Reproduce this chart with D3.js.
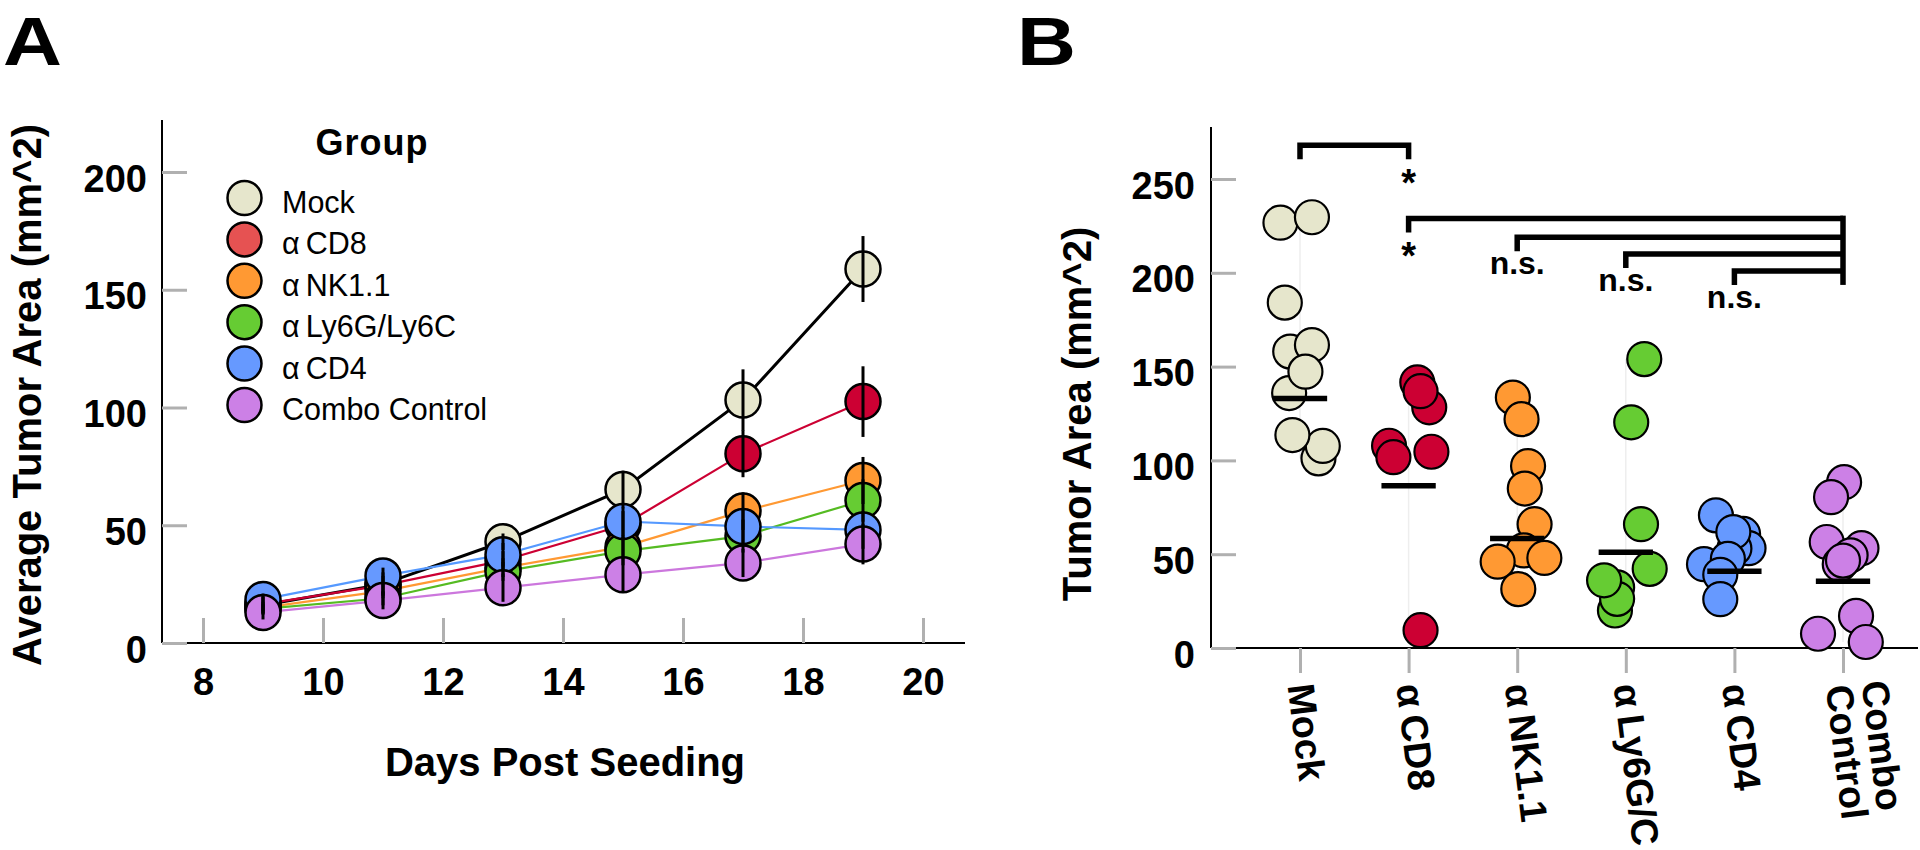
<!DOCTYPE html>
<html><head><meta charset="utf-8">
<script src="https://cdn.jsdelivr.net/npm/d3@7"></script>
<style>
body{margin:0;background:#fff}
svg{display:block}
text{font-family:"Liberation Sans",Arial,Helvetica,sans-serif;fill:#000}
</style>
</head><body>
<svg id="c" width="1920" height="850"></svg>
<script>
// ---------------- DATA ----------------
// Panel A: average tumor area over time
const days = [9, 11, 13, 15, 17, 19];
const groupNames = ["Mock", "α\u2009CD8", "α\u2009NK1.1", "α\u2009Ly6G/Ly6C", "α\u2009CD4", "Combo Control"];
const mockMean  = [16, 25, 43, 65.2, 103.2, 158.8];
const cd8Mean   = [16.5, 24.5, 35, 50, 80.4, 102.5];
const nkMean    = [15, 22, 32, 40.8, 56, 69];
const lyMean    = [14.5, 19, 30.4, 39, 45.4, 60.5];
const cd4Mean   = [18.5, 28.5, 37.5, 51.6, 49.5, 48];
const comboMean = [13, 18, 23.5, 29, 34, 42];
const mockSem  = [4, 5, 3.5, 8, 13, 14];
const cd8Sem   = [3, 4, 4, 6, 10, 15];
const nkSem    = [2.5, 3, 4, 5, 8, 10];
const lySem    = [2, 3, 4, 6, 7, 9];
const cd4Sem   = [2.5, 3.5, 5, 6, 7, 8];
const comboSem = [3, 3.7, 6, 7, 6, 8.6];
const xTicksA = [8, 10, 12, 14, 16, 18, 20];
const yTicksA = [0, 50, 100, 150, 200];

// Panel B: individual tumor areas
const bCats = ["Mock", "α\u2009CD8", "α\u2009NK1.1", "α\u2009Ly6G/C", "α\u2009CD4", "Combo Control"];
const mockVals  = [101.1, 107.7, 113.5, 135.9, 158, 161.5, 147.3, 184.1, 226.7, 229.6];
const mockJit   = [0.17, 0.21, -0.07, -0.10, -0.09, 0.11, 0.05, -0.14, -0.18, 0.11];
const cd8Vals   = [128.3, 141.6, 136.9, 107.8, 101.7, 104.6, 9.5];
const cd8Jit    = [0.19, 0.08, 0.11, -0.18, -0.14, 0.21, 0.11];
const nkVals    = [133.5, 122, 97, 85, 66, 52, 46, 48, 31.4];
const nkJit     = [-0.04, 0.04, 0.10, 0.07, 0.16, 0.06, -0.18, 0.25, 0.01];
const lyVals    = [20, 32.3, 26.2, 36.1, 42.2, 66, 120.3, 154];
const lyJit     = [-0.10, -0.08, -0.08, -0.20, 0.22, 0.14, 0.05, 0.17];
const cd4Vals   = [60.8, 53.2, 53, 70.7, 61.8, 44.7, 47.5, 39, 26];
const cd4Jit    = [0.08, 0.13, 0.0, -0.17, -0.01, -0.28, -0.06, -0.13, -0.13];
const comboVals = [88.4, 80.4, 56.5, 53.2, 49.4, 44.7, 46.6, 17.1, 7.6, 3.2];
const comboJit  = [0.01, -0.11, -0.15, 0.17, 0.07, -0.03, 0.00, 0.12, -0.23, 0.21];
const centerVals = [133, 86.5, 58.4, 51, 40.9, 35.6];
const yTicksB = [0, 50, 100, 150, 200, 250];

// significance comparisons
const sigFrom   = ["Mock", "α\u2009CD8", "α\u2009NK1.1", "α\u2009Ly6G/C", "α\u2009CD4"];
const sigTo     = ["α\u2009CD8", "Combo Control", "Combo Control", "Combo Control", "Combo Control"];
const sigLevel  = [268, 229, 219, 210, 201];
const sigLabel  = ["*", "*", "n.s.", "n.s.", "n.s."];
const sigLabelAt = ["α\u2009CD8", "α\u2009CD8", "α\u2009NK1.1", "α\u2009Ly6G/C", "α\u2009CD4"];

// ---------------- STYLE ----------------
const fills = ["#e6e6cc", "#cc0033", "#ff9933", "#66cc33", "#6699ff", "#cc80e6"];
const legendFills = ["#e6e6cc", "#e65252", "#ff9933", "#66cc33", "#6699ff", "#cc80e6"];
const lineColors = ["#000000", "#cc0033", "#ff9933", "#55bb22", "#5599ff", "#cc77dd"];
const tickGray = "#b0b0b0";

const svg = d3.select("#c");

// ================= PANEL A =================
const A = {left: 162, right: 965, top: 120, bottom: 643};
const xA = d3.scaleLinear().domain([8, 20]).range([203, 923]);
const yA = d3.scaleLinear().domain([0, 200]).range([643, 172]);
const gA = svg.append("g");

gA.append("line").attr("x1", A.left).attr("x2", A.left).attr("y1", A.top).attr("y2", A.bottom).attr("stroke", "#000").attr("stroke-width", 2);
gA.append("line").attr("x1", A.left).attr("x2", A.right).attr("y1", A.bottom).attr("y2", A.bottom).attr("stroke", "#000").attr("stroke-width", 2);

const axYA = gA.append("g").attr("transform", `translate(${A.left},0)`)
  .call(d3.axisLeft(yA).tickValues(yTicksA).tickSize(-25).tickPadding(15).tickFormat(d3.format("d")));
const axXA = gA.append("g").attr("transform", `translate(0,${A.bottom})`)
  .call(d3.axisBottom(xA).tickValues(xTicksA).tickSize(-25).tickPadding(25).tickFormat(d3.format("d")));
[axYA, axXA].forEach(ax => {
  ax.select(".domain").remove();
  ax.selectAll(".tick line").attr("stroke", tickGray).attr("stroke-width", 3);
  ax.selectAll(".tick text").attr("font-size", 38).attr("font-weight", "bold").attr("fill", "#000")
    .style("font-family", '"Liberation Sans",Arial,sans-serif');
});
axYA.selectAll(".tick text").attr("dy", "0.5em");

gA.append("text").attr("transform", "translate(41,395) rotate(-90)").attr("text-anchor", "middle")
  .attr("font-size", 40).attr("font-weight", "bold").text("Average Tumor Area (mm^2)");
gA.append("text").attr("x", 565).attr("y", 776).attr("text-anchor", "middle")
  .attr("font-size", 40).attr("font-weight", "bold").text("Days Post Seeding");
svg.append("text").attr("transform", "translate(3,65) scale(1.2,1)").attr("font-size", 68).attr("font-weight", "bold").text("A");

const seriesA = [mockMean, cd8Mean, nkMean, lyMean, cd4Mean, comboMean].map((vals, i) => ({
  name: groupNames[i], vals, sem: [mockSem, cd8Sem, nkSem, lySem, cd4Sem, comboSem][i], i
}));
const lineA = d3.line().x((d, j) => xA(days[j])).y(d => yA(d));
gA.selectAll("path.series").data(seriesA).join("path").attr("class", "series")
  .attr("d", d => lineA(d.vals)).attr("fill", "none")
  .attr("stroke", d => lineColors[d.i]).attr("stroke-width", d => d.i === 0 ? 3 : 2.2);
seriesA.forEach(s => {
  gA.append("g").selectAll("circle").data(s.vals).join("circle")
    .attr("cx", (d, j) => xA(days[j])).attr("cy", d => yA(d)).attr("r", 17.5)
    .attr("fill", fills[s.i]).attr("stroke", "#000").attr("stroke-width", 2.5);
});
seriesA.forEach(s => {
  gA.append("g").selectAll("line").data(s.vals).join("line")
    .attr("x1", (d, j) => xA(days[j])).attr("x2", (d, j) => xA(days[j]))
    .attr("y1", (d, j) => yA(d + s.sem[j])).attr("y2", (d, j) => yA(d - s.sem[j]))
    .attr("stroke", "#000").attr("stroke-width", 3);
});

// legend
const gL = svg.append("g");
gL.append("text").attr("x", 372).attr("y", 155).attr("text-anchor", "middle")
  .attr("font-size", 36).attr("font-weight", "bold").attr("letter-spacing", 1).text("Group");
groupNames.forEach((g, i) => {
  const cy = 198 + i * 41.4;
  gL.append("circle").attr("cx", 244.5).attr("cy", cy).attr("r", 17)
    .attr("fill", legendFills[i]).attr("stroke", "#000").attr("stroke-width", 2.5);
  gL.append("text").attr("x", 282).attr("y", cy + 15).attr("font-size", 30.5).text(g);
});

// ================= PANEL B =================
const B = {left: 1211, right: 1918, top: 127, bottom: 648};
const xB = d3.scalePoint().domain(bCats).range([1300, 1843]);
const yB = d3.scaleLinear().domain([0, 250]).range([648, 179]);
const step = xB.step();
const gB = svg.append("g");

gB.append("line").attr("x1", B.left).attr("x2", B.left).attr("y1", B.top).attr("y2", B.bottom).attr("stroke", "#000").attr("stroke-width", 2);
gB.append("line").attr("x1", B.left).attr("x2", B.right).attr("y1", B.bottom).attr("y2", B.bottom).attr("stroke", "#000").attr("stroke-width", 2);

const axYB = gB.append("g").attr("transform", `translate(${B.left},0)`)
  .call(d3.axisLeft(yB).tickValues(yTicksB).tickSize(-25).tickPadding(16).tickFormat(d3.format("d")));
const axXB = gB.append("g").attr("transform", `translate(0,${B.bottom})`)
  .call(d3.axisBottom(xB).tickSize(25).tickFormat(""));
[axYB, axXB].forEach(ax => {
  ax.select(".domain").remove();
  ax.selectAll(".tick line").attr("stroke", tickGray).attr("stroke-width", 3);
  ax.selectAll(".tick text").attr("font-size", 38).attr("font-weight", "bold").attr("fill", "#000")
    .style("font-family", '"Liberation Sans",Arial,sans-serif');
});
axYB.selectAll(".tick text").attr("dy", "0.5em");
axXB.selectAll(".tick text").remove();

// category labels, rotated (slightly tilted as in the original)
bCats.forEach(c => {
  const parts = c.split(" ");
  const n = parts.length;
  const t = gB.append("text").attr("transform", `translate(${xB(c) + (n > 1 ? 4 : 0)},${B.bottom + 36}) rotate(83)`)
    .attr("font-size", 38).attr("font-weight", "bold");
  parts.forEach((p, k) => {
    t.append("tspan").attr("x", 0).attr("y", 12.5 + (k - (n - 1) / 2) * 36 - (n > 1 ? 9 : 0)).text(p);
  });
});

gB.append("text").attr("transform", "translate(1091,414) rotate(-90)").attr("text-anchor", "middle")
  .attr("font-size", 40).attr("font-weight", "bold").text("Tumor Area (mm^2)");
svg.append("text").attr("transform", "translate(1017,65) scale(1.2,1)").attr("font-size", 68).attr("font-weight", "bold").text("B");

const bVals = [mockVals, cd8Vals, nkVals, lyVals, cd4Vals, comboVals];
const bJit = [mockJit, cd8Jit, nkJit, lyJit, cd4Jit, comboJit];

bCats.forEach((c, i) => {
  gB.append("line").attr("x1", xB(c)).attr("x2", xB(c))
    .attr("y1", yB(d3.max(bVals[i]))).attr("y2", yB(d3.min(bVals[i])))
    .attr("stroke", "#eeeeee").attr("stroke-width", 1.5);
});
bCats.forEach((c, i) => {
  const pts = bVals[i].map((v, k) => ({v, j: bJit[i][k]}));
  gB.append("g").selectAll("circle").data(pts).join("circle")
    .attr("cx", d => xB(c) + d.j * step).attr("cy", d => yB(d.v)).attr("r", 17)
    .attr("fill", fills[i]).attr("stroke", "#000").attr("stroke-width", 2.2);
});
gB.append("g").selectAll("line").data(centerVals).join("line")
  .attr("x1", (d, i) => xB(bCats[i]) - 0.25 * step).attr("x2", (d, i) => xB(bCats[i]) + 0.25 * step)
  .attr("y1", d => yB(d)).attr("y2", d => yB(d)).attr("stroke", "#000").attr("stroke-width", 5.5);

// significance brackets
const leg = 14;
const gS = gB.append("g").attr("fill", "none").attr("stroke", "#000").attr("stroke-width", 5.5).attr("stroke-linejoin", "miter");
const hubCount = d3.rollup(sigTo, v => v.length, d => d);
sigFrom.forEach((f, i) => {
  const x1 = xB(f), x2 = xB(sigTo[i]), y = yB(sigLevel[i]);
  const shared = hubCount.get(sigTo[i]) > 1;
  const d = shared ? `M${x1},${y + leg}V${y}H${x2}` : `M${x1},${y + leg}V${y}H${x2}V${y + leg}`;
  gS.append("path").attr("d", d);
});
hubCount.forEach((cnt, hub) => {
  if (cnt > 1) {
    const lv = sigLevel.filter((v, i) => sigTo[i] === hub);
    gS.append("line").attr("x1", xB(hub)).attr("x2", xB(hub))
      .attr("y1", yB(d3.max(lv)) - 2.75).attr("y2", yB(d3.min(lv)) + leg);
  }
});
sigLabel.forEach((lab, i) => {
  const legBottom = yB(sigLevel[i]) + leg;
  const star = lab === "*";
  gB.append("text").attr("x", xB(sigLabelAt[i])).attr("y", legBottom + (star ? 37 : 23))
    .attr("text-anchor", "middle").attr("font-size", star ? 38 : 32).attr("font-weight", "bold").text(lab);
});
</script>
</body></html>
